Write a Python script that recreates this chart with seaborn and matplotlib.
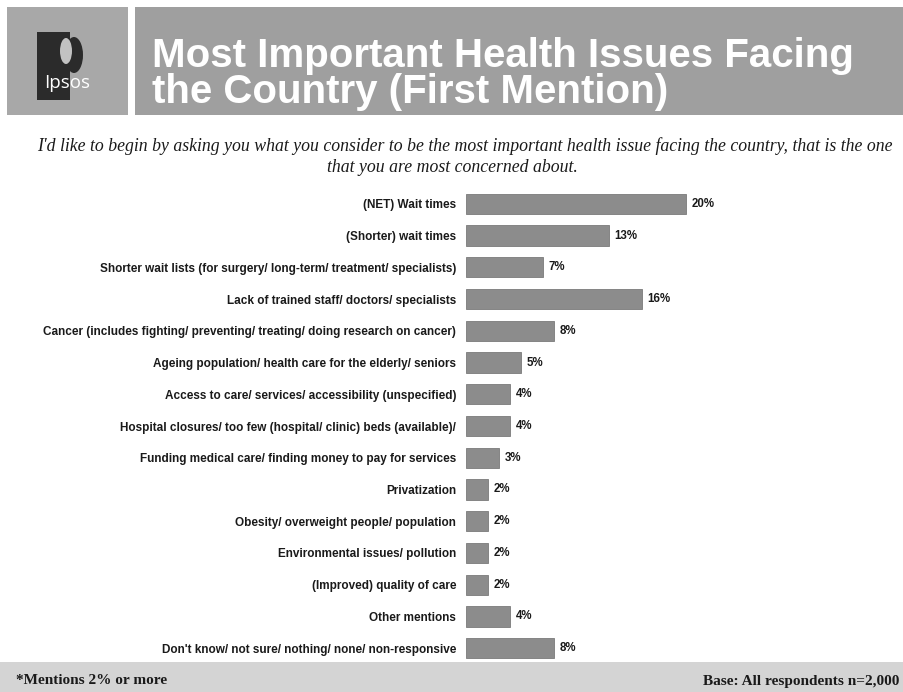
import matplotlib
matplotlib.use("Agg")
import matplotlib.pyplot as plt
from matplotlib import font_manager
from matplotlib.patches import Rectangle, Ellipse
import pandas as pd
import seaborn as sns

categories = [
    "(NET) Wait times",
    "(Shorter) wait times",
    "Shorter wait lists (for surgery/ long-term/ treatment/ specialists)",
    "Lack of trained staff/ doctors/ specialists",
    "Cancer (includes fighting/ preventing/ treating/ doing research on cancer)",
    "Ageing population/ health care for the elderly/ seniors",
    "Access to care/ services/ accessibility (unspecified)",
    "Hospital closures/ too few (hospital/ clinic) beds (available)/",
    "Funding medical care/ finding money to pay for services",
    "Privatization",
    "Obesity/ overweight people/ population",
    "Environmental issues/ pollution",
    "(Improved) quality of care",
    "Other mentions",
    "Don't know/ not sure/ nothing/ none/ non-responsive",
]
values = [20, 13, 7, 16, 8, 5, 4, 4, 3, 2, 2, 2, 2, 4, 8]

title_lines = ["Most Important Health Issues Facing", "the Country (First Mention)"]
question_lines = [
    "I'd like to begin by asking you what you consider to be the most important health issue facing the country, that is the one",
    "that you are most concerned about.",
]
footnote_left = "*Mentions 2% or more"
footnote_right = "Base: All respondents n=2,000"

sns.set_theme(style="white")

# Narrow sans for the category labels when available
try:
    font_manager.findfont(font_manager.FontProperties(family="Liberation Sans Narrow"),
                          fallback_to_default=False)
    label_family, label_size = "Liberation Sans Narrow", 10.4
except Exception:
    label_family, label_size = "Liberation Sans", 8.5

W, H = 904, 692
fig = plt.figure(figsize=(W / 100, H / 100), dpi=100)
fig.patch.set_facecolor("white")


def fx(px):
    return px / W


def fy(py):
    return 1 - py / H


# Header boxes
fig.patches.append(Rectangle((fx(7), fy(115)), fx(121), 108 / H,
                             transform=fig.transFigure, facecolor="#a8a8a8",
                             edgecolor="none", zorder=0))
fig.patches.append(Rectangle((fx(135), fy(115)), fx(769), 108 / H,
                             transform=fig.transFigure, facecolor="#9f9f9f",
                             edgecolor="none", zorder=0))
# Logo: dark block with a profile head
fig.patches.append(Rectangle((fx(37), fy(100)), fx(33), 68 / H,
                             transform=fig.transFigure, facecolor="#2b2b2b",
                             edgecolor="none", zorder=1))
fig.patches.append(Ellipse((fx(74), fy(55)), fx(18), 36 / H,
                           transform=fig.transFigure, facecolor="#2b2b2b",
                           edgecolor="none", zorder=1))
fig.patches.append(Ellipse((fx(66), fy(51)), fx(12), 26 / H,
                           transform=fig.transFigure, facecolor="#c2c2c2",
                           edgecolor="none", zorder=2))
fig.text(fx(44), fy(88), "Ipsos", color="white", fontsize=13.5,
         family="Open Sans", ha="left", va="baseline", zorder=3)

# Title
fig.text(fx(152), fy(67), title_lines[0], color="white", fontsize=29,
         fontweight="bold", family="Liberation Sans", ha="left", va="baseline")
fig.text(fx(152), fy(103), title_lines[1], color="white", fontsize=29,
         fontweight="bold", family="Liberation Sans", ha="left", va="baseline")

# Question text
fig.text(fx(465), fy(146), question_lines[0], fontsize=12.75, style="italic",
         family="Liberation Serif", ha="center", va="center", color="#1a1a1a")
fig.text(fx(452), fy(167), question_lines[1], fontsize=12.75, style="italic",
         family="Liberation Serif", ha="center", va="center", color="#1a1a1a")

# Footer band
fig.patches.append(Rectangle((0, 0), 1, (H - 662) / H,
                             transform=fig.transFigure, facecolor="#d4d4d4",
                             edgecolor="none", zorder=0))
fig.text(fx(16), fy(681), footnote_left, fontsize=11, fontweight="bold",
         family="Liberation Serif", ha="left", va="center", color="#1a1a1a")
fig.text(fx(899), fy(681), footnote_right, fontsize=11, fontweight="bold",
         family="Liberation Serif", ha="right", va="center", color="#1a1a1a")

# Bar chart
px_per_pct = 11.0
ax_left, ax_right = 466, 900
ax_top, ax_bottom = 188, 664
ax = fig.add_axes([fx(ax_left), fy(ax_bottom), fx(ax_right - ax_left),
                   (ax_bottom - ax_top) / H])
ax.patch.set_alpha(0)

df = pd.DataFrame({"issue": categories, "share": values})
sns.barplot(data=df, x="share", y="issue", orient="h", color="#8c8c8c",
            saturation=1, width=0.64, ax=ax, edgecolor="#7a7a7a", linewidth=0.6)

ax.set_xlim(0, (ax_right - ax_left) / px_per_pct)
ax.set_ylim(len(categories) - 0.5, -0.5)
ax.set_xlabel("")
ax.set_ylabel("")
ax.set_xticks([])
for s in ax.spines.values():
    s.set_visible(False)
ax.tick_params(axis="y", length=0, pad=7)
for lab in ax.get_yticklabels():
    lab.set_fontfamily(label_family)
    lab.set_fontsize(label_size)
    lab.set_fontweight("bold")
    lab.set_color("#1a1a1a")

for cont in ax.containers:
    ax.bar_label(cont, labels=[f"{v}%" for v in values], padding=4,
                 fontsize=8.3, fontweight="bold", family="Liberation Sans",
                 color="#1a1a1a")

fig.savefig("out.png", dpi=100)
